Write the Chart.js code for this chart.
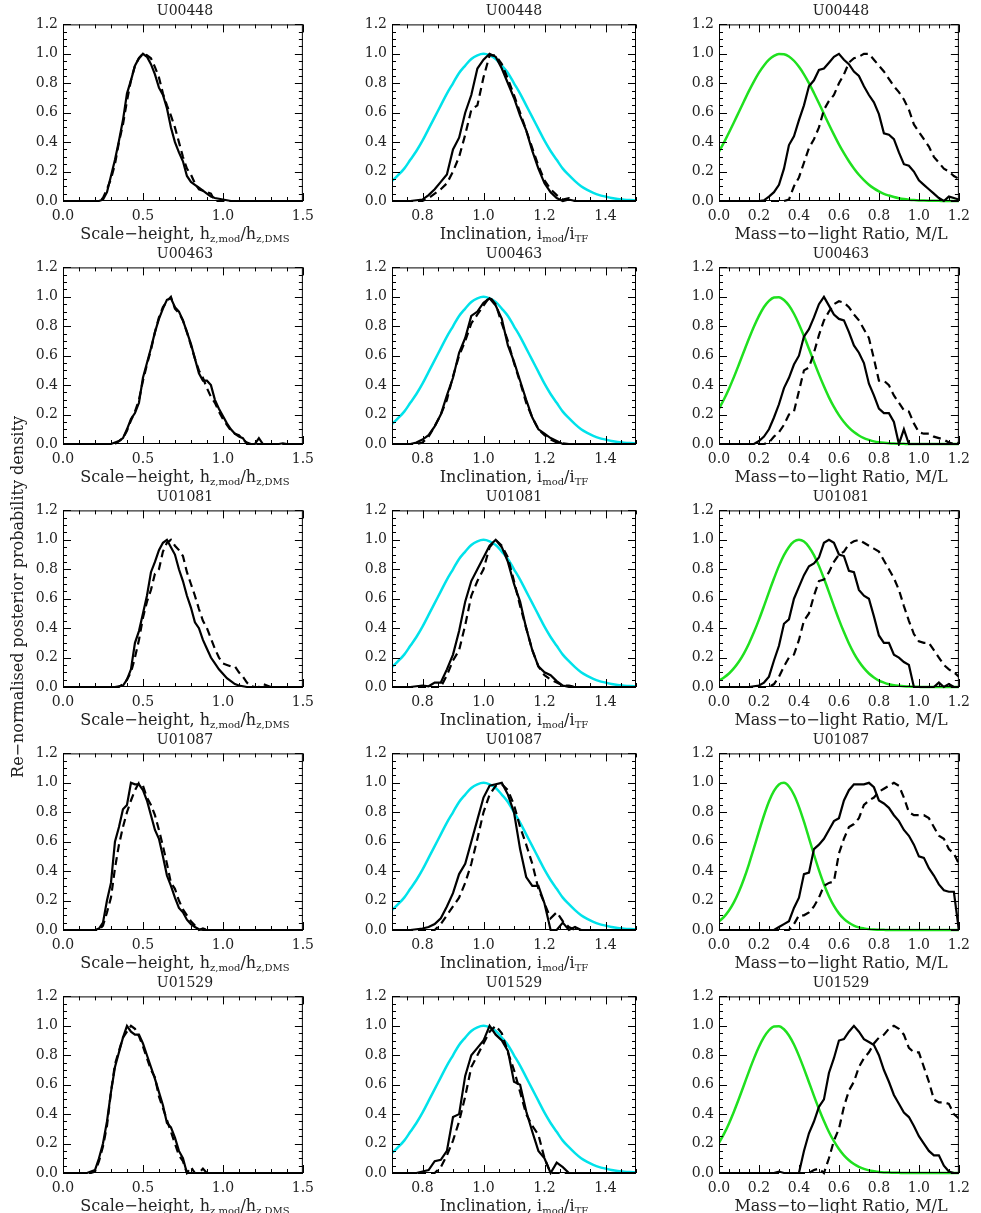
<!DOCTYPE html>
<html>
<head>
<meta charset="utf-8">
<script src="https://cdn.jsdelivr.net/npm/chart.js@4.4.1/dist/chart.umd.min.js"></script>
<style>
  body { margin: 0; background: #fff; width: 981px; height: 1213px; overflow: hidden; position: relative;
         font-family: "DejaVu Serif", serif; color: #222; }
  canvas { position: absolute; }
  .ptitle { position: absolute; width: 244px; text-align: center; font-size: 14px; line-height: 14px; }
  .xtitle { position: absolute; width: 320px; text-align: center; font-size: 16px; line-height: 18px; white-space: nowrap; }
  .xtitle sub { font-size: 10px; vertical-align: -3px; line-height: 0; }
  .ytitle { position: absolute; width: 420px; text-align: center; font-size: 16px; line-height: 18px;
            white-space: nowrap; transform: rotate(-90deg); }
</style>
</head>
<body>
<script>
// x grids and tick labels
const hzX = [0,0.025,0.05,0.075,0.1,0.125,0.15,0.175,0.2,0.225,0.25,0.275,0.3,0.325,0.35,0.375,0.4,0.425,0.45,0.475,
  0.5,0.525,0.55,0.575,0.6,0.625,0.65,0.675,0.7,0.725,0.75,0.775,0.8,0.825,0.85,0.875,0.9,0.925,0.95,0.975,
  1.0,1.025,1.05,1.075,1.1,1.125,1.15,1.175,1.2,1.225,1.25,1.275,1.3,1.325,1.35,1.375,1.4,1.425,1.45,1.475,1.5];
const incX = [0.70,0.72,0.74,0.76,0.78,0.80,0.82,0.84,0.86,0.88,0.90,0.92,0.94,0.96,0.98,1.00,1.02,1.04,1.06,1.08,
  1.10,1.12,1.14,1.16,1.18,1.20,1.22,1.24,1.26,1.28,1.30,1.32,1.34,1.36,1.38,1.40,1.42,1.44,1.46,1.48,1.50];
const mlX = [0,0.025,0.05,0.075,0.1,0.125,0.15,0.175,0.2,0.225,0.25,0.275,0.3,0.325,0.35,0.375,0.4,0.425,0.45,0.475,
  0.5,0.525,0.55,0.575,0.6,0.625,0.65,0.675,0.7,0.725,0.75,0.775,0.8,0.825,0.85,0.875,0.9,0.925,0.95,0.975,
  1.0,1.025,1.05,1.075,1.1,1.125,1.15,1.175,1.2];

const hzTicks = [0, 0.5, 1.0, 1.5];
const incTicks = [0.8, 1.0, 1.2, 1.4];
const mlTicks = [0, 0.2, 0.4, 0.6, 0.8, 1.0, 1.2];
const yTicks = [0, 0.2, 0.4, 0.6, 0.8, 1.0, 1.2];

const galaxies = ['U00448', 'U00463', 'U01081', 'U01087', 'U01529'];

// scale-height posteriors (solid / dashed)
const hz_U00448_solid = [0,0,0,0,0,0,0,0,0,0, 0.01,0.06,0.17,0.28,0.41,0.55,0.73,0.82,0.92,0.97,
  1.0,0.98,0.93,0.86,0.77,0.72,0.63,0.50,0.40,0.33, 0.27,0.17,0.13,0.11,0.09,0.07,0.05,0.03,0.02,0.015,
  0.01,0.005,0,0,0,0,0,0,0,0, 0,0,0,0,0,0,0,0,0,0,0];
const hz_U00448_dashed = [0,0,0,0,0,0,0,0,0,0, 0.02,0.08,0.15,0.25,0.40,0.52,0.68,0.82,0.92,0.97,
  1.0,0.99,0.97,0.91,0.84,0.73,0.65,0.58,0.50,0.40, 0.30,0.22,0.18,0.12,0.08,0.07,0.06,0.05,0,0,
  0,0,0,0,0,0,0,0,0,0, 0,0,0,0,0,0,0,0,0,0,0];
const hz_U00463_solid = [0,0,0,0,0,0,0,0,0,0, 0,0,0,0.01,0.02,0.04,0.10,0.17,0.21,0.28,
  0.45,0.55,0.65,0.76,0.85,0.92,0.98,0.99,0.93,0.90, 0.84,0.76,0.68,0.58,0.48,0.43,0.43,0.40,0.30,0.24,
  0.19,0.14,0.10,0.07,0.05,0.04,0,0,0,0.04, 0,0,0,0,0,0.005,0,0,0,0,0];
const hz_U00463_dashed = [0,0,0,0,0,0,0,0,0,0, 0,0,0,0,0.02,0.04,0.09,0.16,0.22,0.30,
  0.43,0.54,0.64,0.76,0.86,0.93,0.97,1.0,0.92,0.89, 0.84,0.76,0.67,0.58,0.50,0.45,0.38,0.32,0.28,0.22,
  0.17,0.13,0.09,0.07,0.06,0.03,0.01,0,0,0, 0,0,0,0,0,0,0,0,0,0,0];
const hz_U01081_solid = [0,0,0,0,0,0,0,0,0,0, 0,0,0,0,0.005,0.01,0.05,0.12,0.30,0.38,
  0.50,0.62,0.78,0.85,0.93,0.98,1.0,0.95,0.90,0.80, 0.72,0.62,0.54,0.44,0.40,0.32,0.26,0.20,0.16,0.12,
  0.09,0.06,0.04,0.02,0.01,0.005,0,0,0,0, 0,0,0,0,0,0,0,0,0,0,0];
const hz_U01081_dashed = [0,0,0,0,0,0,0,0,0,0, 0,0,0,0,0,0.02,0.05,0.10,0.20,0.32,
  0.47,0.58,0.66,0.77,0.80,0.92,0.98,1.0,0.96,0.93, 0.89,0.78,0.70,0.62,0.53,0.45,0.40,0.33,0.26,0.20,
  0.16,0.15,0.14,0.14,0.10,0.07,0.03,0.005,0,0, 0.02,0.01,0,0,0,0,0,0,0,0,0];
const hz_U01087_solid = [0,0,0,0,0,0,0,0,0,0.01, 0.05,0.20,0.32,0.60,0.70,0.82,0.85,1.0,0.99,0.99,
  0.95,0.88,0.78,0.68,0.62,0.50,0.37,0.30,0.22,0.15, 0.12,0.07,0.04,0.02,0.005,0,0,0,0,0,
  0,0,0,0,0,0,0,0,0,0, 0,0,0,0,0,0,0,0,0,0,0];
const hz_U01087_dashed = [0,0,0,0,0,0,0,0,0,0, 0.03,0.12,0.22,0.42,0.58,0.70,0.80,0.88,0.95,1.0,
  0.98,0.90,0.85,0.78,0.68,0.57,0.45,0.32,0.28,0.20, 0.14,0.10,0.06,0.03,0,0.01,0,0,0,0,
  0,0,0,0,0,0,0,0,0,0, 0,0,0,0,0,0,0,0,0,0,0];
const hz_U01529_solid = [0,0,0,0,0,0,0,0.01,0.02,0.10, 0.20,0.35,0.55,0.72,0.82,0.92,1.0,0.96,0.94,0.94,
  0.88,0.80,0.72,0.64,0.55,0.46,0.34,0.31,0.24,0.15, 0.10,0,0,0,0,0,0,0,0,0,
  0,0,0,0,0,0,0,0,0,0, 0,0,0,0,0,0,0,0,0,0,0];
const hz_U01529_dashed = [0,0,0,0,0,0,0,0,0.01,0.08, 0.18,0.32,0.55,0.74,0.83,0.92,0.96,1.0,0.98,0.93,
  0.86,0.78,0.70,0.65,0.52,0.44,0.36,0.28,0.20,0.12, 0.08,0,0.04,0,0,0.03,0,0,0,0,
  0,0,0,0,0,0,0,0,0,0, 0,0,0,0,0,0,0,0,0,0,0];

// inclination prior (cyan) and posteriors
const incPrior = [0.135,0.175,0.22,0.28,0.34,0.41,0.49,0.57,0.65,0.73, 0.80,0.87,0.92,0.965,0.99,1.0,0.99,0.965,0.92,0.87,
  0.80,0.73,0.65,0.57,0.49,0.41,0.34,0.28,0.22,0.175, 0.135,0.10,0.075,0.055,0.04,0.03,0.02,0.013,0.009,0.006,0.004];
const inc_U00448_solid = [0,0,0,0,0.005,0.01,0.04,0.08,0.13,0.18, 0.35,0.43,0.60,0.72,0.90,0.96,1.0,0.98,0.90,0.80,
  0.70,0.58,0.48,0.34,0.22,0.12,0.06,0.02,0,0.01, 0,0,0,0,0,0,0,0,0,0,0];
const inc_U00448_dashed = [0,0,0,0,0,0,0.02,0.05,0.08,0.12, 0.20,0.30,0.45,0.62,0.65,0.84,0.99,0.99,0.93,0.83,
  0.72,0.60,0.48,0.36,0.24,0.14,0.08,0.04,0.01,0.02, 0,0,0,0,0,0,0,0,0,0,0];
const inc_U00463_solid = [0,0,0,0,0.01,0.03,0.06,0.12,0.20,0.33, 0.45,0.62,0.72,0.87,0.90,0.96,0.99,0.94,0.85,0.67,
  0.56,0.43,0.30,0.18,0.10,0.07,0.04,0.02,0,0, 0,0,0,0,0,0,0,0,0,0,0];
const inc_U00463_dashed = [0,0,0,0,0,0.01,0.05,0.12,0.20,0.30, 0.46,0.60,0.70,0.82,0.88,0.94,1.0,0.95,0.82,0.70,
  0.55,0.42,0.28,0.18,0.10,0.06,0.03,0.01,0.005,0, 0,0,0,0,0,0,0,0,0,0,0];
const inc_U01081_solid = [0,0,0,0,0.005,0.01,0.005,0.03,0.03,0.12, 0.22,0.38,0.58,0.72,0.80,0.88,0.96,1.0,0.95,0.85,
  0.70,0.58,0.40,0.25,0.14,0.10,0.08,0.04,0.01,0, 0,0,0,0,0,0,0,0,0,0,0];
const inc_U01081_dashed = [0,0,0,0,0,0,0,0,0,0.08, 0.18,0.25,0.42,0.62,0.72,0.80,0.95,1.0,0.96,0.88,
  0.72,0.55,0.40,0.25,0.14,0.08,0.05,0.03,0.01,0.01, 0,0,0,0,0,0,0,0,0,0,0];
const inc_U01087_solid = [0,0,0,0,0.005,0.01,0.02,0.04,0.08,0.16, 0.25,0.38,0.45,0.60,0.75,0.90,0.98,0.99,1.0,0.92,
  0.80,0.55,0.36,0.30,0.30,0.18,0,0,0.05,0, 0.02,0,0,0,0,0,0,0,0,0,0];
const inc_U01087_dashed = [0,0,0,0,0,0,0,0,0.04,0.10, 0.16,0.22,0.32,0.45,0.62,0.80,0.92,0.98,0.99,0.95,
  0.85,0.70,0.58,0.45,0.28,0.18,0.08,0.12,0.06,0.02, 0,0,0,0,0,0,0,0,0,0,0];
const inc_U01529_solid = [0,0,0,0,0,0.01,0.02,0.08,0.09,0.15, 0.38,0.40,0.66,0.80,0.85,0.90,1.0,0.94,0.90,0.83,
  0.62,0.60,0.42,0.28,0.15,0.10,0,0.07,0.04,0, 0,0,0,0,0,0,0,0,0,0,0];
const inc_U01529_dashed = [0,0,0,0,0,0,0,0,0.04,0.12, 0.22,0.35,0.52,0.72,0.80,0.88,0.96,1.0,0.95,0.82,
  0.70,0.55,0.40,0.32,0.26,0.10,0,0,0,0, 0,0,0,0,0,0,0,0,0,0,0];

// mass-to-light priors (green) and posteriors
const mlPrior_U00448 = [0.336,0.398,0.465,0.535,0.607,0.678,0.748,0.813,0.872,0.921, 0.960,0.986,0.999,0.997,0.982,0.953,0.912,0.861,0.801,0.734,
  0.664,0.592,0.520,0.451,0.385,0.325,0.270,0.221,0.178,0.142, 0.111,0.086,0.066,0.049,0.037,0.027,0.019,0.013,0.009,0.006,
  0.004,0.003,0.002,0.001,0.001,0,0,0,0];
const mlPrior_U00463 = [0.240,0.304,0.376,0.456,0.542,0.630,0.717,0.799,0.871,0.931, 0.973,0.996,0.998,0.979,0.941,0.885,0.814,0.734,0.647,0.559,
  0.473,0.392,0.317,0.252,0.196,0.149,0.111,0.081,0.058,0.040, 0.028,0.018,0.012,0.008,0.005,0.003,0.002,0.001,0,0,
  0,0,0,0,0,0,0,0,0];
const mlPrior_U01081 = [0.044,0.065,0.092,0.128,0.173,0.229,0.296,0.373,0.458,0.550, 0.645,0.737,0.823,0.896,0.952,0.988,1.0,0.988,0.952,0.896,
  0.823,0.737,0.645,0.550,0.458,0.373,0.296,0.229,0.173,0.128, 0.092,0.065,0.044,0.030,0.019,0.012,0.008,0.005,0.003,0.002,
  0.001,0,0,0,0,0,0,0,0];
const mlPrior_U01087 = [0.058,0.089,0.132,0.189,0.261,0.348,0.448,0.558,0.670,0.778, 0.873,0.945,0.989,1.0,0.975,0.919,0.837,0.736,0.625,0.513,
  0.407,0.311,0.230,0.164,0.113,0.075,0.049,0.030,0.018,0.011, 0.006,0.003,0.002,0.001,0,0,0,0,0,0,
  0,0,0,0,0,0,0,0,0];
const mlPrior_U01529 = [0.205,0.266,0.337,0.418,0.506,0.598,0.691,0.779,0.858,0.923, 0.970,0.996,0.998,0.977,0.934,0.873,0.796,0.709,0.617,0.524,
  0.435,0.353,0.279,0.216,0.163,0.120,0.087,0.061,0.042,0.028, 0.018,0.012,0.007,0.004,0.003,0.002,0.001,0,0,0,
  0,0,0,0,0,0,0,0,0];

const ml_U00448_solid = [0,0,0,0,0,0,0,0,0,0.005, 0.03,0.06,0.11,0.22,0.38,0.44,0.55,0.65,0.78,0.82,
  0.89,0.90,0.94,0.98,1.0,0.96,0.93,0.88,0.85,0.78, 0.72,0.67,0.59,0.46,0.45,0.42,0.33,0.25,0.24,0.20,
  0.14,0.11,0.08,0.05,0.02,0,0.03,0.02,0.01];
const ml_U00448_dashed = [0,0,0,0,0,0,0,0,0,0, 0,0,0,0,0.01,0.10,0.16,0.26,0.36,0.42,
  0.50,0.62,0.68,0.72,0.80,0.86,0.94,0.97,0.98,1.0, 1.0,0.96,0.92,0.88,0.83,0.78,0.74,0.69,0.62,0.52,
  0.47,0.42,0.37,0.30,0.26,0.22,0.20,0.17,0.15];
const ml_U00463_solid = [0,0,0,0,0,0,0,0,0.02,0.05, 0.10,0.18,0.27,0.38,0.45,0.54,0.60,0.73,0.78,0.86,
  0.95,1.0,0.94,0.88,0.85,0.84,0.76,0.67,0.62,0.55, 0.41,0.33,0.24,0.21,0.21,0.15,0,0.10,0,0,
  0,0,0,0,0,0,0,0,0];
const ml_U00463_dashed = [0,0,0,0,0,0,0,0,0,0, 0.01,0.05,0.08,0.13,0.20,0.22,0.36,0.50,0.52,0.62,
  0.74,0.84,0.90,0.95,0.97,0.96,0.93,0.88,0.84,0.78, 0.72,0.58,0.43,0.43,0.40,0.33,0.28,0.23,0.22,0.14,
  0.08,0.07,0.07,0.05,0.04,0.03,0.01,0,0.01];
const ml_U01081_solid = [0,0,0,0,0,0,0,0.005,0.01,0.03, 0.07,0.18,0.28,0.43,0.46,0.60,0.68,0.76,0.82,0.84,
  0.88,0.98,1.0,0.98,0.90,0.89,0.79,0.78,0.66,0.62, 0.60,0.48,0.35,0.30,0.30,0.22,0.20,0.17,0.15,0,
  0,0,0,0,0.03,0,0.02,0,0];
const ml_U01081_dashed = [0,0,0,0,0,0,0,0,0,0, 0,0.02,0.07,0.14,0.20,0.22,0.32,0.45,0.50,0.62,
  0.72,0.73,0.78,0.85,0.90,0.92,0.97,0.99,1.0,0.98, 0.96,0.94,0.92,0.86,0.80,0.74,0.66,0.55,0.45,0.36,
  0.31,0.30,0.30,0.25,0.20,0.15,0.12,0.10,0.07];
const ml_U01087_solid = [0,0,0,0,0,0,0,0,0,0, 0,0,0.02,0.04,0.06,0.15,0.22,0.38,0.39,0.55,
  0.58,0.62,0.68,0.74,0.76,0.88,0.95,0.99,0.99,0.99, 1.0,0.97,0.88,0.86,0.83,0.78,0.74,0.68,0.64,0.58,
  0.50,0.49,0.42,0.37,0.31,0.27,0.26,0.26,0];
const ml_U01087_dashed = [0,0,0,0,0,0,0,0,0,0, 0,0,0,0,0,0.04,0.10,0.10,0.12,0.16,
  0.22,0.30,0.32,0.33,0.52,0.62,0.70,0.72,0.76,0.85, 0.88,0.90,0.94,0.96,0.98,1.0,0.98,0.90,0.80,0.78,
  0.78,0.78,0.76,0.70,0.64,0.62,0.55,0.52,0.45];
const ml_U01529_solid = [0,0,0,0,0,0,0,0,0,0, 0,0,0.01,0,0,0,0,0.15,0.27,0.35,
  0.45,0.50,0.68,0.78,0.90,0.91,0.96,1.0,0.96,0.91, 0.89,0.87,0.80,0.70,0.62,0.53,0.47,0.41,0.38,0.32,
  0.25,0.20,0.15,0.12,0.12,0.05,0.01,0,0];
const ml_U01529_dashed = [0,0,0,0,0,0,0,0,0,0, 0,0,0,0,0,0,0,0,0,0.02,
  0.03,0,0.10,0.22,0.30,0.45,0.56,0.62,0.72,0.78, 0.82,0.88,0.92,0.94,0.98,1.0,0.98,0.94,0.85,0.82,
  0.82,0.72,0.62,0.50,0.48,0.48,0.47,0.40,0.37];

// tables built from the arrays above
const columns = [
  { xs: hzX, min: 0, max: 1.5, ticks: hzTicks, minor: 0.1, major: 0.5,
    title: 'Scale\u2212height, h<sub>z,mod</sub>/h<sub>z,DMS</sub>' },
  { xs: incX, min: 0.7, max: 1.5, ticks: incTicks, minor: 0.05, major: 0.2,
    title: 'Inclination, i<sub>mod</sub>/i<sub>TF</sub>' },
  { xs: mlX, min: 0, max: 1.2, ticks: mlTicks, minor: 0.05, major: 0.2,
    title: 'Mass\u2212to\u2212light Ratio, M/L' }
];
const panels = [
  [[hz_U00448_solid, hz_U00448_dashed], [inc_U00448_solid, inc_U00448_dashed, incPrior], [ml_U00448_solid, ml_U00448_dashed, mlPrior_U00448]],
  [[hz_U00463_solid, hz_U00463_dashed], [inc_U00463_solid, inc_U00463_dashed, incPrior], [ml_U00463_solid, ml_U00463_dashed, mlPrior_U00463]],
  [[hz_U01081_solid, hz_U01081_dashed], [inc_U01081_solid, inc_U01081_dashed, incPrior], [ml_U01081_solid, ml_U01081_dashed, mlPrior_U01081]],
  [[hz_U01087_solid, hz_U01087_dashed], [inc_U01087_solid, inc_U01087_dashed, incPrior], [ml_U01087_solid, ml_U01087_dashed, mlPrior_U01087]],
  [[hz_U01529_solid, hz_U01529_dashed], [inc_U01529_solid, inc_U01529_dashed, incPrior], [ml_U01529_solid, ml_U01529_dashed, mlPrior_U01529]]
];
const priorColors = [null, '#00e2ea', '#1fe01f'];

// plot box geometry
const plotLeft = [63, 392, 719];
const plotW = 244, plotH = 182, rowPitch = 243, firstTop = 19;
const padL = 52, padT = 8, padR = 14, padB = 26;

// IDL-style frame: box with inward major/minor ticks on all four sides
const idlFrame = {
  id: 'idlFrame',
  afterDatasetsDraw(chart, args, opts) {
    const { ctx, chartArea: a, scales } = chart;
    const marks = (min, max, minor, major) => {
      const out = [];
      for (let k = Math.ceil(min / minor - 1e-6); k <= Math.floor(max / minor + 1e-6); k++) {
        const v = k * minor;
        out.push([v, Math.abs(v / major - Math.round(v / major)) < 1e-6]);
      }
      return out;
    };
    ctx.save();
    ctx.strokeStyle = '#000';
    ctx.lineWidth = 1;
    ctx.strokeRect(a.left + 0.5, a.top + 0.5, a.right - a.left - 1, a.bottom - a.top - 1);
    ctx.beginPath();
    marks(scales.x.min, scales.x.max, opts.xMinor, opts.xMajor).forEach(([v, big]) => {
      const px = Math.round(scales.x.getPixelForValue(v)) + 0.5;
      const len = big ? 8 : 4;
      ctx.moveTo(px, a.bottom); ctx.lineTo(px, a.bottom - len);
      ctx.moveTo(px, a.top); ctx.lineTo(px, a.top + len);
    });
    marks(scales.y.min, scales.y.max, opts.yMinor, opts.yMajor).forEach(([v, big]) => {
      const py = Math.round(scales.y.getPixelForValue(v)) + 0.5;
      const len = big ? 8 : 4;
      ctx.moveTo(a.left, py); ctx.lineTo(a.left + len, py);
      ctx.moveTo(a.right, py); ctx.lineTo(a.right - len, py);
    });
    ctx.stroke();
    ctx.restore();
  }
};

const tickFont = { family: 'DejaVu Serif', size: 14 };
const problems = [];

function toPoints(xs, ys, name) {
  if (xs.length !== ys.length) problems.push(name + ': ' + ys.length + '/' + xs.length);
  return xs.map((x, i) => ({ x: x, y: ys[i] }));
}

function addText(cls, html, left, top) {
  const d = document.createElement('div');
  d.className = cls;
  d.innerHTML = html;
  d.style.left = left + 'px';
  d.style.top = top + 'px';
  document.body.appendChild(d);
  return d;
}

galaxies.forEach((name, r) => {
  const top = firstTop + r * rowPitch;
  columns.forEach((col, c) => {
    const series = panels[r][c];
    const canvas = document.createElement('canvas');
    canvas.width = padL + plotW + padR;
    canvas.height = padT + plotH + padB;
    canvas.style.left = (plotLeft[c] - padL) + 'px';
    canvas.style.top = (top - padT) + 'px';
    document.body.appendChild(canvas);

    const datasets = [
      { data: toPoints(col.xs, series[0], name + c + 's'), borderColor: '#000', borderWidth: 2.2 },
      { data: toPoints(col.xs, series[1], name + c + 'd'), borderColor: '#000', borderWidth: 2.2, borderDash: [8, 5] }
    ];
    if (series[2]) {
      datasets.push({ data: toPoints(col.xs, series[2], name + c + 'p'), borderColor: priorColors[c],
        borderWidth: 2.5, cubicInterpolationMode: 'monotone' });
    }
    datasets.forEach(ds => {
      ds.pointRadius = 0;
      ds.fill = false;
      ds.tension = 0;
      ds.clip = { left: 0, top: 0, right: 0, bottom: 2 };
    });

    new Chart(canvas, {
      type: 'line',
      data: { datasets: datasets },
      options: {
        responsive: false,
        animation: false,
        devicePixelRatio: 1,
        layout: { padding: { left: 0, top: padT, right: padR, bottom: 0 } },
        plugins: {
          legend: { display: false },
          tooltip: { enabled: false },
          idlFrame: { xMinor: col.minor, xMajor: col.major, yMinor: 0.05, yMajor: 0.2 }
        },
        scales: {
          x: {
            type: 'linear', min: col.min, max: col.max,
            grid: { display: false, drawTicks: false },
            border: { display: false },
            afterBuildTicks: s => { s.ticks = col.ticks.map(v => ({ value: v })); },
            afterFit: s => { s.height = padB; },
            ticks: { font: tickFont, color: '#222', padding: 7, maxRotation: 0,
                     callback: v => Number(v).toFixed(1) }
          },
          y: {
            type: 'linear', min: 0, max: 1.2,
            grid: { display: false, drawTicks: false },
            border: { display: false },
            afterBuildTicks: s => { s.ticks = yTicks.map(v => ({ value: v })); },
            afterFit: s => { s.width = padL; },
            ticks: { font: tickFont, color: '#222', padding: 5,
                     callback: v => Number(v).toFixed(1) }
          }
        }
      },
      plugins: [idlFrame]
    });

    addText('ptitle', name, plotLeft[c], top - 16);
    addText('xtitle', col.title, plotLeft[c] + plotW / 2 - 160, top + plotH + 24);
  });
});

addText('ytitle', 'Re\u2212normalised posterior probability density', 18 - 210, 597 - 9);

if (problems.length) {
  addText('xtitle', 'LENGTH: ' + problems.join(', '), 300, 600).style.color = 'red';
}
</script>
</body>
</html>
